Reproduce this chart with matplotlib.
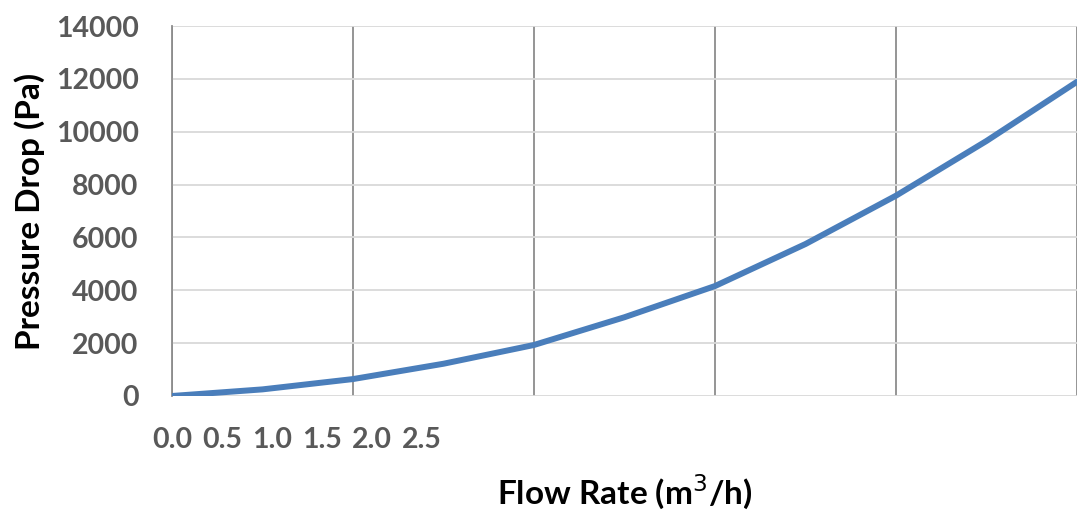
import matplotlib
matplotlib.use('Agg')
import matplotlib.pyplot as plt

# values
flow_rate = [0.0, 0.25, 0.5, 0.75, 1.0, 1.25, 1.5, 1.75, 2.0, 2.25, 2.5]
pressure_drop = [0, 250, 640, 1220, 1930, 2980, 4160, 5750, 7580, 9650, 11890]

x_ticks = [0.0, 0.5, 1.0, 1.5, 2.0, 2.5]
x_tick_labels = ['0.0', '0.5', '1.0', '1.5', '2.0', '2.5']
y_ticks = [0, 2000, 4000, 6000, 8000, 10000, 12000, 14000]

plt.rcParams['font.family'] = ['Lato', 'DejaVu Sans']

fig = plt.figure(figsize=(10.87, 5.15), dpi=100)
ax = fig.add_axes([0.1582, 0.2311, 0.8326, 0.7184])

ax.plot(flow_rate, pressure_drop, color='#4a7ebb', linewidth=4.3,
        solid_capstyle='round', solid_joinstyle='round', zorder=3)

ax.set_xlim(0, 2.5)
ax.set_ylim(0, 14000)
ax.set_xticks(x_ticks)
ax.set_yticks(y_ticks)
ax.set_xticklabels([])
ax.tick_params(axis='x', length=0)
ax.tick_params(axis='y', length=0, pad=24, labelsize=20.5, labelcolor='#595959')
for lab in ax.get_yticklabels():
    lab.set_fontweight('bold')

ax.grid(axis='y', color='#d9d9d9', linewidth=1.3)
ax.grid(axis='x', color='#8c8c8c', linewidth=1.3)
ax.set_axisbelow(True)
for side in ['top', 'right', 'bottom']:
    ax.spines[side].set_visible(False)
ax.spines['left'].set_color('#8c8c8c')
ax.spines['left'].set_linewidth(1.3)

# the tick labels sit squeezed at the left, on a scale of their own
squeeze = 3.62
sec = ax.secondary_xaxis('bottom', functions=(lambda m: m * squeeze,
                                              lambda s: s / squeeze))
sec.set_xticks(x_ticks)
sec.set_xticklabels(x_tick_labels)
sec.spines['bottom'].set_visible(False)
sec.tick_params(length=0, pad=22, labelsize=20.5, labelcolor='#595959')
for lab in sec.get_xticklabels():
    lab.set_fontweight('bold')

ax.set_xlabel('Flow Rate (m$^3$/h)', fontsize=24, fontweight='bold',
              labelpad=52)
ax.set_ylabel('Pressure Drop (Pa)', fontsize=24, fontweight='bold',
              labelpad=8)

fig.savefig('out.png', dpi=100)
